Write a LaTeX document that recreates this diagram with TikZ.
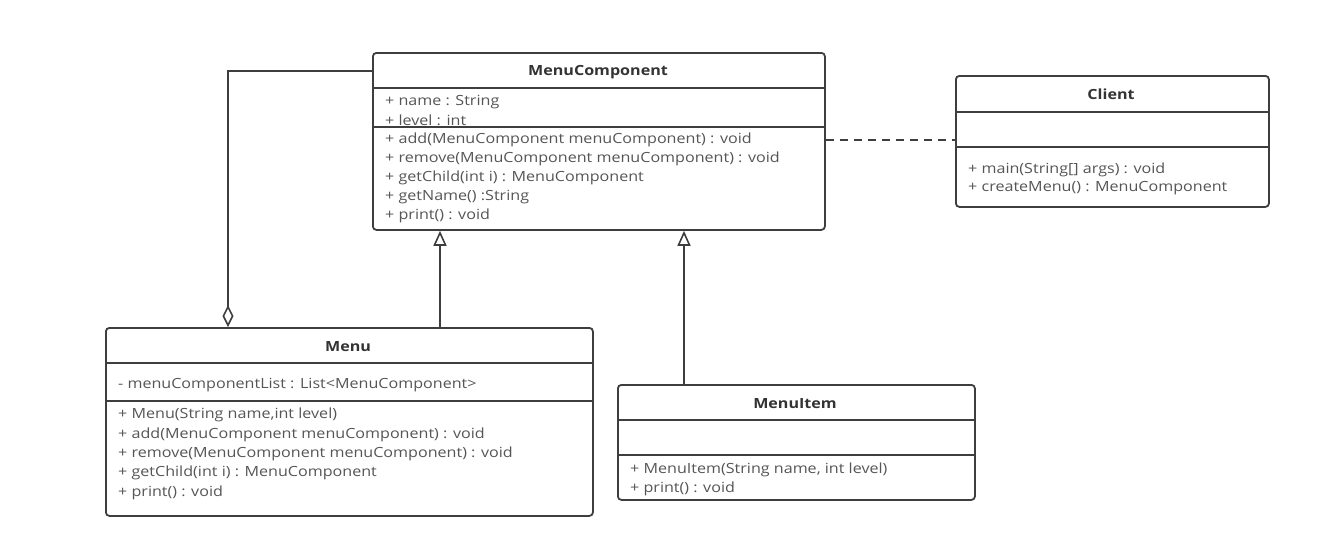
\documentclass[tikz,border=0pt]{standalone}
\usepackage{fontspec}
\setmainfont{Open Sans}
\newfontfamily\umlfont{Open Sans}[FakeStretch=1.15]
\usetikzlibrary{arrows.meta}
\definecolor{linegray}{HTML}{3E3E3E}
\definecolor{textgray}{HTML}{555555}
\definecolor{titlegray}{HTML}{333333}
\begin{document}
\begin{tikzpicture}[x=1pt,y=-1pt,
  cls/.style={draw=linegray, line width=1.8pt, rounded corners=3.5pt, inner sep=0pt, anchor=north west},
  sep/.style={draw=linegray, line width=1.8pt},
  title/.style={font=\umlfont\fontsize{14}{16}\selectfont\bfseries, text=titlegray, inner sep=0pt},
  member/.style={font=\umlfont\fontsize{14}{16}\selectfont, text=textgray, anchor=west, inner sep=0pt, yshift=-1.5pt},
  conn/.style={draw=linegray, line width=1.8pt}]
\useasboundingbox (0,0) rectangle (1321,547);

% MenuComponent
\node[cls, minimum width=452pt, minimum height=177pt] (mc) at (372,52) {};
\draw[sep] (372,88) -- (824,88);
\draw[sep] (372,127) -- (824,127);
\node[title] (mct) at (598,72) {MenuComponent};
\node[member] (mc1) at (385,101) {+ name : String};
\node[member] (mc2) at (385,118.5) {+ level : int};
\node[member] (mc3) at (385,138) {+ add(MenuComponent menuComponent) : void};
\node[member] (mc4) at (385,157) {+ remove(MenuComponent menuComponent) : void};
\node[member] (mc5) at (385,176) {+ getChild(int i) : MenuComponent};
\node[member] (mc6) at (385,196) {+ getName() :String};
\node[member] (mc7) at (385,214) {+ print() : void};

% Client
\node[cls, minimum width=313pt, minimum height=131pt] (client) at (955,75) {};
\draw[sep] (955,112) -- (1268,112);
\draw[sep] (955,147) -- (1268,147);
\node[title] (clt) at (1111,94) {Client};
\node[member] (cl1) at (968,168) {+ main(String[] args) : void};
\node[member] (cl2) at (968,187) {+ createMenu() : MenuComponent};

% Menu
\node[cls, minimum width=487pt, minimum height=188pt] (menu) at (105,327) {};
\draw[sep] (105,363) -- (592,363);
\draw[sep] (105,401) -- (592,401);
\node[title] (mnt) at (348,347) {Menu};
\node[member] (mn0) at (118,384) {- menuComponentList : List<MenuComponent>};
\node[member] (mn1) at (118,413) {+ Menu(String name,int level)};
\node[member] (mn2) at (118,433) {+ add(MenuComponent menuComponent) : void};
\node[member] (mn3) at (118,452) {+ remove(MenuComponent menuComponent) : void};
\node[member] (mn4) at (118,471) {+ getChild(int i) : MenuComponent};
\node[member] (mn5) at (118,491) {+ print() : void};

% MenuItem
\node[cls, minimum width=357pt, minimum height=115pt] (item) at (617,384) {};
\draw[sep] (617,420) -- (974,420);
\draw[sep] (617,455) -- (974,455);
\node[title] (itt) at (795,404) {MenuItem};
\node[member] (it1) at (630,468) {+ MenuItem(String name, int level)};
\node[member] (it2) at (630,487) {+ print() : void};

% connectors
\coordinate (aggbend) at (228,71);
\coordinate (gen1) at (440,0);
\coordinate (gen2) at (684,0);
\coordinate (dep) at (0,140);

\draw[conn, -{Diamond[open, length=22pt, width=11pt, line width=1.6pt]}]
  (mc.west |- aggbend) -| (menu.north -| aggbend);
\draw[conn, -{Triangle[open, length=15pt, width=13pt, line width=1.6pt]}]
  (menu.north -| gen1) -- (mc.south -| gen1);
\draw[conn, -{Triangle[open, length=15pt, width=13pt, line width=1.6pt]}]
  (item.north -| gen2) -- (mc.south -| gen2);
\draw[conn, dash pattern=on 8pt off 6pt] (mc.east |- dep) -- (client.west |- dep);
\end{tikzpicture}
\end{document}
